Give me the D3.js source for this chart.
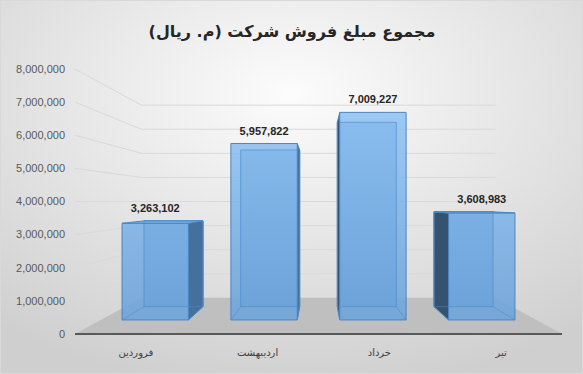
<!DOCTYPE html>
<html>
<head>
<meta charset="utf-8">
<script src="https://cdn.jsdelivr.net/npm/d3@7"></script>
<style>
  body { margin: 0; background: #fff; }
  svg { display: block; }
</style>
</head>
<body>
<div id="chart"></div>
<script>
// data
const categories = ["فروردین", "اردیبهشت", "خرداد", "تیر"];
const sales = [3263102, 5957822, 7009227, 3608983];
const yTicks = [0, 1000000, 2000000, 3000000, 4000000, 5000000, 6000000, 7000000, 8000000];
const title = "مجموع مبلغ فروش شرکت (م. ریال)";

const width = 583, height = 374;

// front plane scales
let x = d3.scaleBand()
    .domain(categories)
    .range([75, 562])
    .paddingInner(0.39)
    .paddingOuter(0.195);

let y = d3.scaleLinear()
    .domain([0, 8000000])
    .range([334, 69]);

// perspective: vanishing point at the centre, eye level at 4,000,000
const cx = (x.range()[0] + x.range()[1]) / 2;
const vy = y(4000000);
const sFloorBack = 0.727, sBarFront = 0.894, sBarBack = 0.794;

function proj(xf, yf, s) {
    return [cx + (xf - cx) * s, vy + (yf - vy) * s];
}

let svg = d3.select("#chart").append("svg")
    .attr("width", width)
    .attr("height", height);

let defs = svg.append("defs");
let bg = defs.append("radialGradient").attr("id", "bg")
    .attr("cx", "50%").attr("cy", "25%").attr("r", "80%");
bg.append("stop").attr("offset", "0%").attr("stop-color", "#fcfcfc");
bg.append("stop").attr("offset", "100%").attr("stop-color", "#cfcfcf");

let frontGrad = defs.append("linearGradient").attr("id", "front")
    .attr("gradientUnits", "userSpaceOnUse")
    .attr("x1", 0).attr("y1", 334).attr("x2", 0).attr("y2", 100);
frontGrad.append("stop").attr("offset", "0%").attr("stop-color", "#6aa1d8");
frontGrad.append("stop").attr("offset", "100%").attr("stop-color", "#93c5f5");

svg.append("rect")
    .attr("x", 0.5).attr("y", 0.5)
    .attr("width", width - 1).attr("height", height - 1)
    .attr("fill", "url(#bg)")
    .attr("stroke", "#d9d9d9");

// title
svg.append("text")
    .attr("x", 292)
    .attr("y", 37)
    .attr("text-anchor", "middle")
    .style("font-family", "DejaVu Sans, Tahoma, sans-serif")
    .style("font-weight", "bold")
    .style("font-size", "16px")
    .attr("fill", "#262626")
    .text(title);

// gridlines: side wall then back wall
let grid = svg.append("g");
yTicks.filter(d => d > 0).forEach(function(t) {
    let a = [x.range()[0], y(t)];
    let b = proj(x.range()[0], y(t), sFloorBack);
    let c = proj(x.range()[1], y(t), sFloorBack);
    grid.append("polyline")
        .attr("points", [a, b, c].map(p => p.join(",")).join(" "))
        .attr("fill", "none")
        .attr("stroke", "#d9d9d9")
        .attr("stroke-width", 1);
});

// floor
let floorPts = [
    [x.range()[0], y(0)],
    [x.range()[1], y(0)],
    proj(x.range()[1], y(0), sFloorBack),
    proj(x.range()[0], y(0), sFloorBack)
];
svg.append("polygon")
    .attr("points", floorPts.map(p => p.join(",")).join(" "))
    .attr("fill", "#bfbfbf");

svg.append("line")
    .attr("x1", x.range()[0]).attr("x2", x.range()[1])
    .attr("y1", y(0)).attr("y2", y(0))
    .attr("stroke", "#595959")
    .attr("stroke-width", 2);

// y axis labels
svg.append("g").selectAll("text")
    .data(yTicks)
    .enter()
    .append("text")
    .attr("x", 65)
    .attr("y", d => y(d))
    .attr("dy", "0.35em")
    .attr("text-anchor", "end")
    .style("font-family", "Liberation Sans, Arial, sans-serif")
    .style("font-size", "11px")
    .attr("fill", "#595959")
    .text(d => d3.format(",")(d));

// bars
let bars = svg.append("g");
categories.forEach(function(cat, i) {
    let xl = x(cat), xr = x(cat) + x.bandwidth();
    let yt = y(sales[i]), yb = y(0);
    let P = {
        flb: proj(xl, yb, sBarFront), frb: proj(xr, yb, sBarFront),
        flt: proj(xl, yt, sBarFront), frt: proj(xr, yt, sBarFront),
        blb: proj(xl, yb, sBarBack), brb: proj(xr, yb, sBarBack),
        blt: proj(xl, yt, sBarBack), brt: proj(xr, yt, sBarBack)
    };
    let g = bars.append("g");
    function face(keys, fill, op) {
        g.append("polygon")
            .attr("points", keys.map(k => P[k].join(",")).join(" "))
            .attr("fill", fill)
            .attr("fill-opacity", op)
            .attr("stroke", "#4a86c4")
            .attr("stroke-width", 1)
            .attr("stroke-linejoin", "round");
    }
    // back face
    face(["blb", "brb", "brt", "blt"], "#5f97cf", 1);
    // side facing the centre
    if (xr < cx) face(["frb", "brb", "brt", "frt"], "#46709c", 1);
    if (xl > cx) face(["flb", "blb", "blt", "flt"], "#35526f", 1);
    // top if below eye level
    if (yt > vy) face(["flt", "frt", "brt", "blt"], "#80b6ea", 1);
    // front face, a bit see-through
    face(["flb", "frb", "frt", "flt"], "url(#front)", 0.88);
    // hidden back edges seen through
    [["blb", "brb"], ["blb", "blt"], ["brb", "brt"], ["flb", "blb"], ["frb", "brb"], ["blt", "brt"]]
        .forEach(function(e) {
            g.append("line")
                .attr("x1", P[e[0]][0]).attr("y1", P[e[0]][1])
                .attr("x2", P[e[1]][0]).attr("y2", P[e[1]][1])
                .attr("stroke", "#4d8bca")
                .attr("stroke-opacity", 0.55)
                .attr("stroke-width", 1);
        });

    // value label
    g.append("text")
        .attr("x", (P.flt[0] + P.frt[0]) / 2)
        .attr("y", Math.min(P.flt[1], P.blt[1]) - 9)
        .attr("text-anchor", "middle")
        .style("font-family", "Liberation Sans, Arial, sans-serif")
        .style("font-weight", "bold")
        .style("font-size", "11px")
        .attr("fill", "#262626")
        .text(d3.format(",")(sales[i]));
});

// category labels
svg.append("g").selectAll("text")
    .data(categories)
    .enter()
    .append("text")
    .attr("x", d => x(d) + x.bandwidth() / 2)
    .attr("y", 356)
    .attr("text-anchor", "middle")
    .style("font-family", "DejaVu Sans, Tahoma, sans-serif")
    .style("font-size", "10px")
    .attr("fill", "#404040")
    .text(d => d);
</script>
</body>
</html>
